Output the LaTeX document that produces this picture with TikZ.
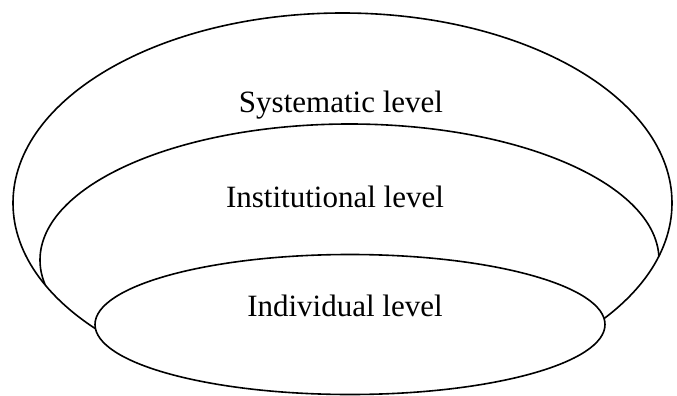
\documentclass[tikz,border=0pt]{standalone}
\usepackage{fontspec}
\setmainfont{Liberation Serif}
\usepackage{tikz}
\usetikzlibrary{positioning}
\tikzstyle{ring} = [line width=1.6pt, color=black]
\tikzstyle{levellabel} = [anchor=base, inner sep=0pt, font=\fontsize{31}{37}\selectfont]

\begin{document}
\begin{tikzpicture}[x=1pt, y=-1pt]
\useasboundingbox (0,0) rectangle (677,396);
% Outer ring
\draw[ring] (342.5,203) ellipse (329.5 and 190);
\node[levellabel] (systematic) at (341,112) {Systematic level};

% Middle ring, only inside the outer one
\begin{scope}
\clip (342.5,203) ellipse (329.5 and 190);
\draw[ring] (349.5,260) ellipse (309.5 and 136);
\end{scope}
\node[levellabel] (institutional) at (335,207) {Institutional level};

% Inner ring on top
\draw[ring, fill=white] (350,324.5) ellipse (255 and 70);
\node[levellabel] (individual) at (345,316) {Individual level};
\end{tikzpicture}
\end{document}
